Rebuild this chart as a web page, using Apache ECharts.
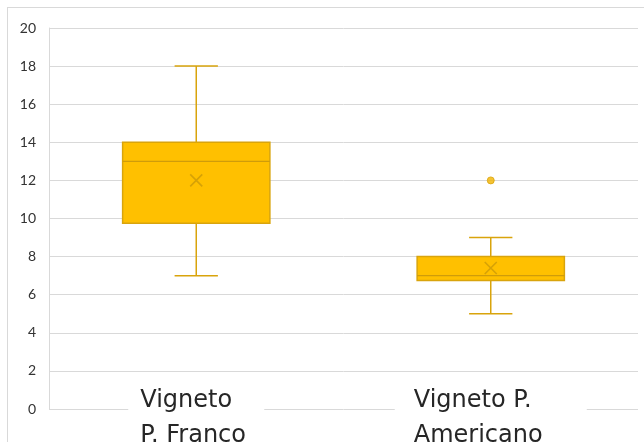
<!DOCTYPE html>
<html>
<head>
<meta charset="utf-8">
<script src="https://cdn.jsdelivr.net/npm/echarts@6/dist/echarts.min.js"></script>
<style>
html,body{margin:0;padding:0;background:#fff;}
#frame{position:absolute;left:7px;top:7px;width:637px;height:435px;border-top:1px solid #d9d9d9;border-left:1px solid #d9d9d9;}
#chart{position:absolute;left:0;top:0;width:644px;height:442px;}
</style>
</head>
<body>
<div id="frame"></div>
<div id="chart"></div>
<script>
// Data
const categories = ['Vigneto\nP. Franco', 'Vigneto P.\nAmericano'];
const boxMin    = [7, 5];
const boxQ1     = [9.75, 6.75];
const boxMedian = [13, 7];
const boxQ3     = [14, 8];
const boxMax    = [18, 9];
const means     = [12, 7.4];
const outliers  = [[1, 12]];
const yTicks    = [0, 2, 4, 6, 8, 10, 12, 14, 16, 18, 20];

const fill = '#FFC000';
const stroke = '#D9A40C';

const boxData = categories.map((c, i) => [i, boxMin[i], boxQ1[i], boxMedian[i], boxQ3[i], boxMax[i]]);
const meanData = categories.map((c, i) => [i, means[i]]);

const chart = echarts.init(document.getElementById('chart'), null, {renderer: 'canvas'});
chart.setOption({
  animation: false,
  grid: {left: 49, right: 6, top: 28, bottom: 33, containLabel: false, outerBoundsMode: 'none'},
  xAxis: {
    type: 'category',
    data: categories,
    axisLine: {show: false},
    axisTick: {show: false},
    splitLine: {show: false},
    axisLabel: {
      margin: -26,
      formatter: function (v, idx) {
        return v.split('\n').map(s => '{c' + idx + '|' + s + '}').join('\n');
      },
      rich: {
        c0: {width: 112, align: 'left', fontFamily: 'DejaVu Sans', fontSize: 24, lineHeight: 35, color: '#262626', backgroundColor: '#fff', padding: [0, 12, 0, 12]},
        c1: {width: 154, align: 'left', fontFamily: 'DejaVu Sans', fontSize: 24, lineHeight: 35, color: '#262626', backgroundColor: '#fff', padding: [0, 19, 0, 19]}
      }
    }
  },
  yAxis: {
    type: 'value',
    min: yTicks[0],
    max: yTicks[yTicks.length - 1],
    interval: yTicks[1] - yTicks[0],
    axisLine: {show: true, lineStyle: {color: '#d9d9d9', width: 1}},
    axisTick: {show: false},
    splitLine: {show: true, lineStyle: {color: '#d9d9d9', width: 1}},
    axisLabel: {fontFamily: 'Lato', fontSize: 14, color: '#333333', margin: 13}
  },
  series: [
    {
      type: 'custom',
      data: boxData,
      z: 3,
      renderItem: function (params, api) {
        const x = api.value(0);
        const band = api.size([1, 0])[0];
        const bw = band * 0.5;
        const cw = band * 0.147;
        const pMin = api.coord([x, api.value(1)]);
        const pQ1 = api.coord([x, api.value(2)]);
        const pMed = api.coord([x, api.value(3)]);
        const pQ3 = api.coord([x, api.value(4)]);
        const pMax = api.coord([x, api.value(5)]);
        const cx = pMin[0];
        const ls = {stroke: stroke, lineWidth: 1.5};
        return {
          type: 'group',
          children: [
            {type: 'line', shape: {x1: cx, y1: pMax[1], x2: cx, y2: pQ3[1]}, style: ls},
            {type: 'line', shape: {x1: cx, y1: pQ1[1], x2: cx, y2: pMin[1]}, style: ls},
            {type: 'line', shape: {x1: cx - cw / 2, y1: pMax[1], x2: cx + cw / 2, y2: pMax[1]}, style: ls},
            {type: 'line', shape: {x1: cx - cw / 2, y1: pMin[1], x2: cx + cw / 2, y2: pMin[1]}, style: ls},
            {type: 'rect', shape: {x: cx - bw / 2, y: pQ3[1], width: bw, height: pQ1[1] - pQ3[1]}, style: {fill: fill, stroke: stroke, lineWidth: 1.5}},
            {type: 'line', shape: {x1: cx - bw / 2, y1: pMed[1], x2: cx + bw / 2, y2: pMed[1]}, style: {stroke: '#CF9C0A', lineWidth: 1.3}}
          ]
        };
      }
    },
    {
      type: 'scatter',
      data: meanData,
      z: 4,
      symbol: 'path://M0,0L10,10M10,0L0,10',
      symbolSize: 12,
      itemStyle: {color: 'none', borderColor: '#CC9A08', borderWidth: 1.6}
    },
    {
      type: 'scatter',
      data: outliers,
      z: 4,
      symbol: 'circle',
      symbolSize: 7,
      itemStyle: {color: '#F2B400', borderColor: '#D9A40C', borderWidth: 1}
    }
  ]
});
</script>
</body>
</html>
